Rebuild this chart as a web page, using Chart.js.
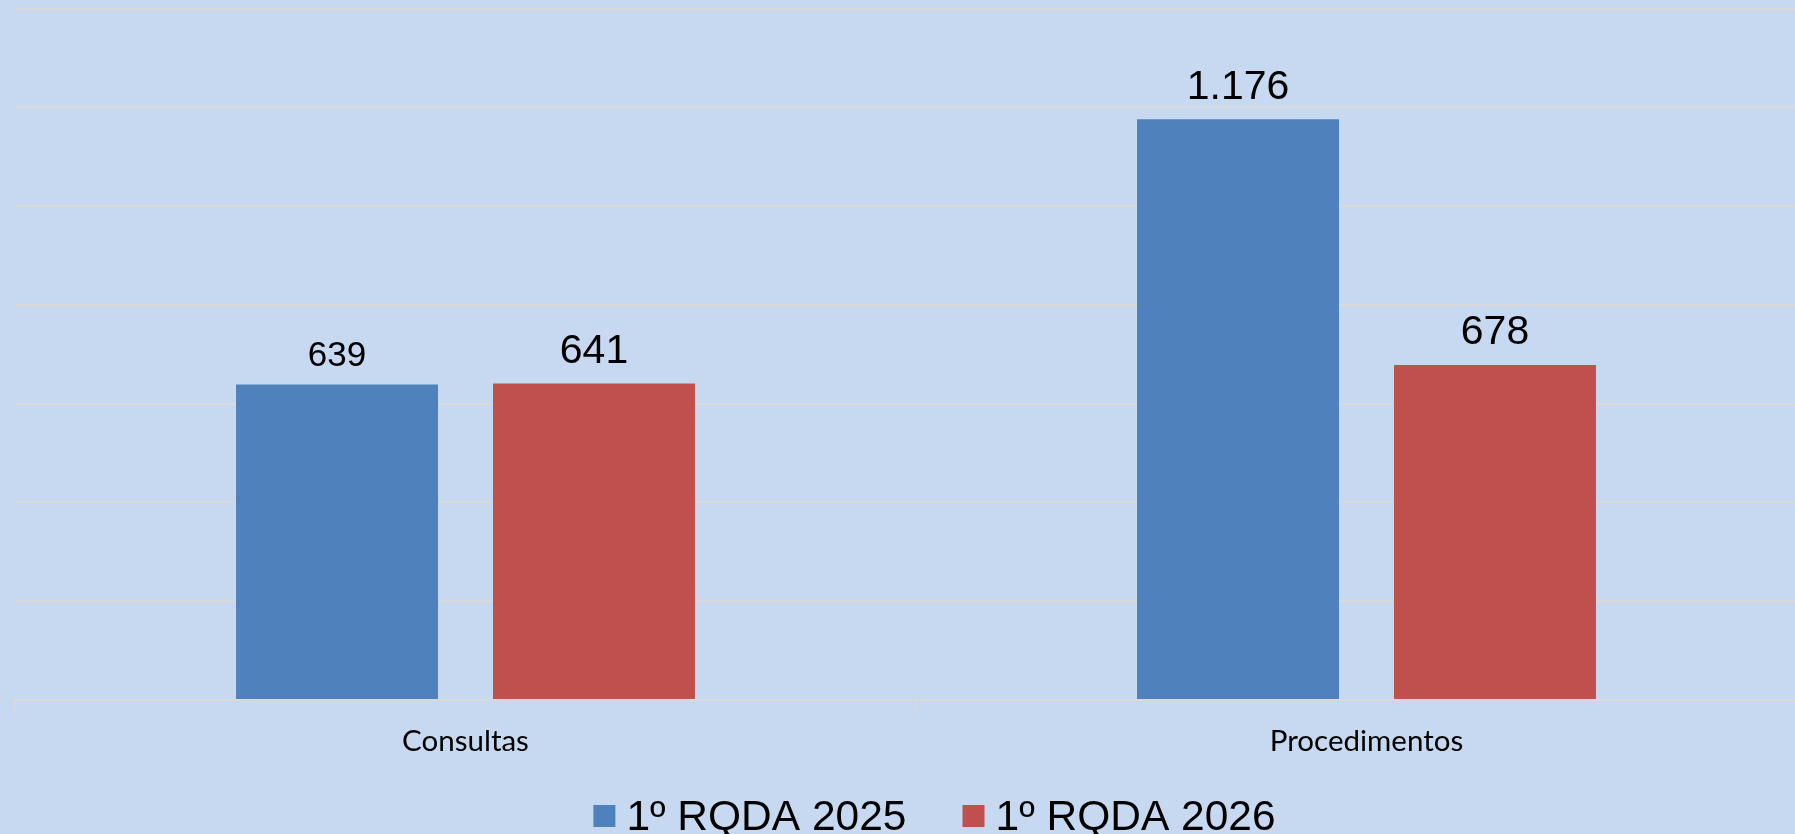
<!DOCTYPE html>
<html><head><meta charset="utf-8">
<script src="https://cdn.jsdelivr.net/npm/chart.js@4.4.1/dist/chart.umd.min.js"></script>
<style>
html,body{margin:0;padding:0;background:#c6d9f0;overflow:hidden;width:1795px;height:834px;}
#wrap{position:absolute;left:0;top:0;width:1869px;height:834px;}
</style></head><body>
<div id="wrap"><canvas id="c" width="1869" height="834"></canvas></div>
<script>
// ---- data ----
const categories = ['Consultas', 'Procedimentos'];
const seriesNames = ['1º RQDA 2025', '1º RQDA 2026'];
const values2025 = [639, 1176];
const values2026 = [641, 678];
const yMin = 0, yMax = 1400, yStep = 200;

function fmt(v){ return String(v).replace(/\B(?=(\d{3})+(?!\d))/g, '.'); }

const valueLabels = {
  id: 'valueLabels',
  afterDatasetsDraw(chart, args, opts){
    const ctx = chart.ctx;
    ctx.save();
    ctx.fillStyle = '#000';
    ctx.textAlign = 'center';
    ctx.textBaseline = 'alphabetic';
    chart.data.datasets.forEach((ds, i) => {
      chart.getDatasetMeta(i).data.forEach((el, j) => {
        ctx.font = opts.sizes[i][j] + 'px "Liberation Sans", Arial, sans-serif';
        ctx.fillText(fmt(ds.data[j]), el.x, el.y - opts.offsets[i][j]);
      });
    });
    ctx.restore();
  }
};

const customLegend = {
  id: 'customLegend',
  afterDraw(chart, args, opts){
    const ctx = chart.ctx;
    ctx.save();
    ctx.font = opts.size + 'px "Liberation Sans", Arial, sans-serif';
    const items = chart.data.datasets.map(ds => ({text: ds.label, color: ds.backgroundColor, w: ctx.measureText(ds.label).width}));
    const total = items.reduce((a, it) => a + opts.box + opts.gap + it.w, 0) + opts.spacing * (items.length - 1);
    let x = chart.width / 2 - total / 2;
    items.forEach(it => {
      ctx.fillStyle = it.color;
      ctx.fillRect(x, opts.boxTop, opts.box, opts.box);
      ctx.fillStyle = '#000';
      ctx.textAlign = 'left';
      ctx.textBaseline = 'alphabetic';
      ctx.fillText(it.text, x + opts.box + opts.gap, opts.baseline);
      x += opts.box + opts.gap + it.w + opts.spacing;
    });
    ctx.restore();
  }
};

new Chart(document.getElementById('c'), {
  type: 'bar',
  data: {
    labels: categories,
    datasets: [
      {label: seriesNames[0], data: values2025, backgroundColor: '#4f81bd'},
      {label: seriesNames[1], data: values2026, backgroundColor: '#c0504d'}
    ]
  },
  options: {
    responsive: false,
    animation: false,
    devicePixelRatio: 1,
    layout: {padding: {left: 15, right: 52, top: 8.5, bottom: 64}},
    datasets: {bar: {categoryPercentage: 0.5704, barPercentage: 0.786}},
    scales: {
      x: {
        grid: {offset: true, drawOnChartArea: false, drawTicks: true, tickLength: 10, color: '#d9d9d9', lineWidth: 2},
        border: {display: true, color: '#d9d9d9', width: 2},
        ticks: {color: '#000', font: {family: 'Lato', size: 29.5}, padding: 14},
        afterFit(s){ s.height = 70; }
      },
      y: {
        min: yMin, max: yMax,
        ticks: {stepSize: yStep, display: false},
        grid: {color: '#d9d9d9', lineWidth: 2, drawTicks: false},
        border: {display: false},
        afterFit(s){ s.width = 0; }
      }
    },
    plugins: {
      legend: {display: false},
      tooltip: {enabled: false},
      valueLabels: {sizes: [[35, 41], [41, 41]], offsets: [[18.5, 20.5], [20, 21]]},
      customLegend: {size: 42.5, box: 22, gap: 11, spacing: 56, boxTop: 805, baseline: 830}
    }
  },
  plugins: [valueLabels, customLegend]
});
</script>
</body></html>
